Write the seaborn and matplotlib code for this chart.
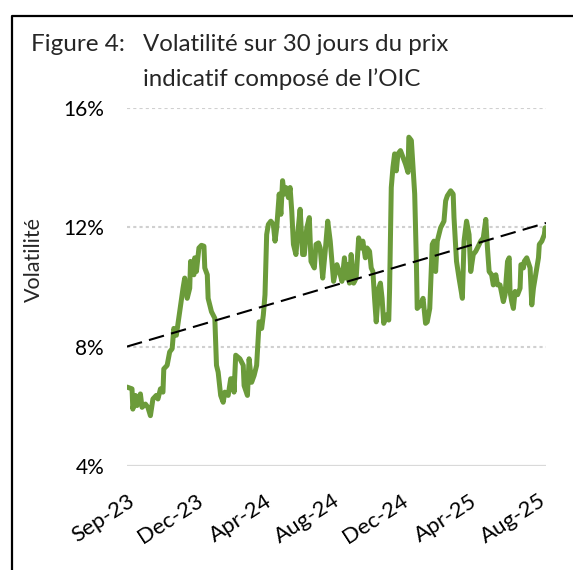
import pandas as pd
import matplotlib
matplotlib.use('Agg')
import matplotlib.pyplot as plt
import seaborn as sns
from matplotlib.lines import Line2D

# trading day index (0 = early Sep 2023) and 30-day volatility (%)
trading_day = [0, 6, 7, 10, 12, 16, 18, 22, 25, 28, 31, 35, 37, 40, 43, 44, 48, 51, 54, 56,
               59, 63, 67, 69, 72, 75, 76, 80, 81, 83, 86, 89, 92, 93, 96, 97, 101, 105, 107, 109,
               112, 115, 117, 121, 124, 127, 128, 130, 135, 139, 140, 144, 146, 149, 152, 155, 158, 161, 163, 165,
               167, 169, 172, 175, 177, 179, 182, 184, 186, 188, 190, 193, 195, 197, 199, 202, 204, 207, 210, 212,
               215, 218, 220, 224, 226, 229, 231, 234, 237, 240, 243, 245, 247, 251, 255, 257, 260, 262, 264, 266,
               268, 271, 274, 277, 280, 282, 285, 287, 290, 292, 294, 296, 298, 301, 303, 305, 307, 310, 313, 314,
               316, 318, 320, 322, 324, 327, 330, 333, 336, 337, 340, 342, 344, 346, 347, 351, 354, 357, 359, 362,
               365, 367, 369, 371, 373, 375, 379, 381, 383, 387, 390, 391, 394, 397, 399, 401, 403, 406, 409, 411,
               414, 417, 419, 423, 426, 429, 431, 433, 436, 438, 441, 443, 446, 450, 452, 455, 457, 458, 460, 462,
               464, 467, 470, 471, 474, 475, 478, 482, 484, 486, 490, 492, 493, 496, 499, 500, 501]
volatility = [6.64, 6.58, 5.90, 6.36, 6.02, 6.41, 5.96, 6.07, 5.96, 5.68, 6.24, 6.36, 6.24, 6.58, 6.47, 7.25, 7.37, 7.82, 7.93, 8.61,
              8.38, 9.17, 9.96, 10.30, 9.62, 9.96, 10.86, 10.41, 10.98, 10.52, 11.31, 11.40, 11.37, 10.64, 10.41, 9.62, 9.17, 8.95, 7.37, 7.14,
              6.36, 6.13, 6.47, 6.36, 6.92, 6.92, 6.47, 7.71, 7.59, 7.37, 6.69, 6.36, 7.59, 6.80, 7.03, 7.37, 8.83, 8.61, 9.06, 9.74,
              11.76, 12.10, 12.21, 12.10, 11.54, 11.99, 13.12, 12.44, 13.57, 13.12, 13.34, 13.00, 13.34, 12.55, 11.43, 11.09, 11.76, 12.61, 11.09, 11.09,
              11.99, 12.33, 10.86, 10.64, 11.43, 11.48, 11.31, 10.30, 11.20, 12.21, 11.54, 10.86, 10.19, 10.75, 10.41, 10.19, 10.98, 10.30, 10.75, 10.13,
              11.09, 10.13, 10.30, 11.65, 11.31, 11.54, 10.98, 11.31, 11.20, 10.64, 10.52, 9.62, 8.83, 9.96, 10.13, 9.62, 8.78, 9.06, 8.89, 9.96,
              13.34, 14.02, 14.47, 13.90, 14.47, 14.58, 14.35, 14.13, 13.85, 15.03, 14.92, 14.02, 13.12, 10.86, 9.28, 9.40, 9.62, 8.78, 8.83, 9.28,
              11.43, 11.54, 10.52, 11.54, 11.76, 11.99, 12.21, 12.89, 13.06, 13.23, 13.12, 12.33, 10.86, 10.30, 9.96, 9.62, 11.54, 12.21, 11.76, 10.52,
              11.09, 11.20, 11.31, 11.54, 11.65, 12.27, 11.31, 10.52, 10.41, 10.07, 10.41, 10.07, 10.07, 9.51, 9.74, 10.86, 10.98, 9.85, 9.51, 9.28,
              9.85, 9.74, 9.96, 10.75, 10.64, 10.86, 10.98, 10.64, 9.40, 9.96, 10.64, 10.98, 11.43, 11.54, 11.76, 11.99, 11.80]
trend_ends = [8.0, 12.15]
tick_labels = ['Sep-23', 'Dec-23', 'Apr-24', 'Aug-24', 'Dec-24', 'Apr-25', 'Aug-25']
tick_step = 82  # trading days between labels
y_ticks = [4, 8, 12, 16]

sns.set_theme(style='white')
plt.rcParams['font.family'] = ['Lato', 'DejaVu Sans']

W, H = 573, 570
fig = plt.figure(figsize=(W / 100, H / 100), dpi=100)
ax = fig.add_axes([127 / W, 1 - 465.7 / H, (546 - 127) / W, (465.7 - 108.3) / H])

# gridlines: dotted, the bottom one solid
for v in y_ticks[1:]:
    ax.axhline(v, color='#d0d0d0', lw=1.5, ls=(0, (1.5, 1.5)), zorder=0)
ax.axhline(y_ticks[0], color='#d9d9d9', lw=1.6, zorder=0)

df = pd.DataFrame({'day': trading_day, 'vol': volatility})
sns.lineplot(data=df, x='day', y='vol', color='#6B9B3A', linewidth=3.6,
             estimator=None, ax=ax, zorder=2)

trend = pd.DataFrame({'day': [trading_day[0], trading_day[-1]], 'vol': trend_ends})
sns.lineplot(data=trend, x='day', y='vol', color='black', linewidth=1.5,
             estimator=None, ax=ax, zorder=3)
ax.lines[-1].set_linestyle((0, (7.5, 3.5)))

ax.set_xlim(trading_day[0], trading_day[-1])
ax.set_ylim(y_ticks[0], y_ticks[-1])
for s in ax.spines.values():
    s.set_visible(False)

ax.set_yticks(y_ticks)
ax.set_yticklabels([f'{v}%' for v in y_ticks])
ax.set_xticks([i * tick_step for i in range(len(tick_labels))])
ax.set_xticklabels(tick_labels, rotation=33, ha='right', va='top', rotation_mode='anchor')
ax.tick_params(axis='y', length=0, pad=16.5, labelsize=15, labelcolor='black')
ax.tick_params(axis='x', length=0, pad=18, labelsize=16, labelcolor='black')
ax.set_xlabel('')
ax.set_ylabel('')

fig.text(34 / W, 1 - 260 / H, 'Volatilité', rotation=90, ha='center', va='center', fontsize=15.5)

# title, two lines, hanging indent
fig.text(31 / W, 1 - 51 / H, 'Figure 4:', va='baseline', fontsize=17.5)
fig.text(143 / W, 1 - 51 / H, 'Volatilité sur 30 jours du prix', va='baseline', fontsize=17.3)
fig.text(143 / W, 1 - 86 / H, 'indicatif composé de l’OIC', va='baseline', fontsize=17.3)

# frame (only left and top edges are visible in the crop)
fig.add_artist(Line2D([12 / W, 12 / W, 1], [0, 1 - 16 / H, 1 - 16 / H],
                      transform=fig.transFigure, color='black', lw=1.6))

fig.savefig('out.png', dpi=100)
